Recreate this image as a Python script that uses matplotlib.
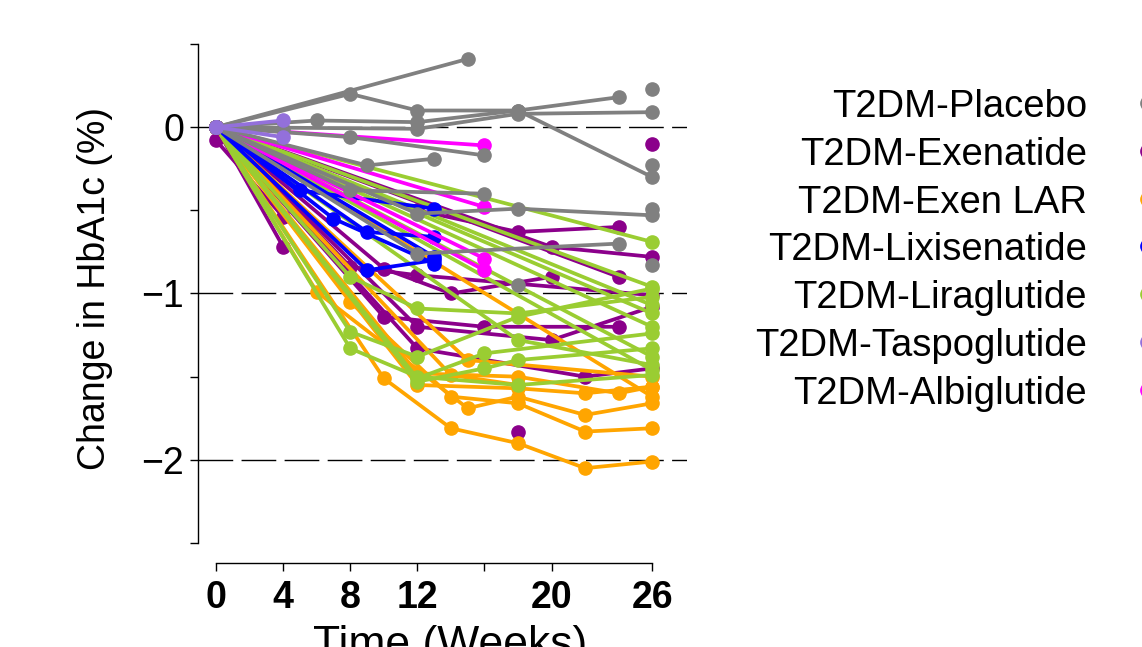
import matplotlib.pyplot as plt
from matplotlib.lines import Line2D

plt.rcParams['font.family'] = ['Liberation Sans', 'DejaVu Sans']

# ---- data (weeks, change in HbA1c %) ----
group_names = ['T2DM-Placebo', 'T2DM-Exenatide', 'T2DM-Exen LAR', 'T2DM-Lixisenatide',
               'T2DM-Liraglutide', 'T2DM-Taspoglutide', 'T2DM-Albiglutide']
group_colors = ['#808080', '#8B008B', '#FFA500', '#0000FF', '#9ACD32', '#9370DB', '#FF00FF']

placebo_weeks = [[0, 15], [0, 8, 12, 18, 26], [0, 6, 12, 18, 24], [0, 12, 18, 26],
                 [0, 8, 16], [0, 9, 13], [0, 8, 16], [0, 12, 18, 26], [0, 12, 24], [0, 4]]
placebo_change = [[0, 0.41], [0, 0.2, 0.1, 0.1, -0.3], [0, 0.04, 0.03, 0.1, 0.18],
                  [0, -0.01, 0.08, 0.09], [0, -0.06, -0.17], [0, -0.23, -0.19],
                  [0, -0.38, -0.4], [0, -0.52, -0.49, -0.53], [0, -0.76, -0.7], [0, -0.01]]
placebo_pt_weeks = [26, 26, 26, 26, 18]
placebo_pt_change = [0.23, -0.23, -0.49, -0.83, -0.95]

exenatide_weeks = [[0, 4], [0, 4], [0, 8, 12, 26], [0, 10, 14, 20], [0, 10, 16, 24],
                   [0, 12, 20, 26], [0, 12, 22, 26], [0, 12, 18, 24], [0, 20, 26], [0, 24]]
exenatide_change = [[-0.08, -0.54], [0, -0.72], [0, -0.84, -0.89, -1.01],
                    [0, -0.85, -1.0, -0.9], [0, -1.14, -1.2, -1.2], [0, -1.2, -1.28, -1.08],
                    [0, -1.33, -1.5, -1.45], [0, -0.5, -0.63, -0.6], [0, -0.72, -0.78],
                    [0, -0.9]]
exenatide_pt_weeks = [26, 18]
exenatide_pt_change = [-0.1, -1.83]

lar_weeks = [[0, 10, 14, 18, 22, 26], [0, 8, 14, 18, 22, 26], [0, 6, 15, 18, 22, 26],
             [0, 12, 18, 24, 26], [0, 15, 26], [0, 12, 18, 22, 26], [0, 14, 18], [0, 26]]
lar_change = [[0, -1.51, -1.81, -1.9, -2.05, -2.01], [0, -1.05, -1.62, -1.66, -1.83, -1.81],
              [0, -0.99, -1.69, -1.62, -1.73, -1.66], [0, -1.48, -1.5, -1.6, -1.56],
              [0, -1.4, -1.5], [0, -1.55, -1.57, -1.6, -1.56], [0, -1.49, -1.55],
              [0, -1.62]]

lixi_weeks = [[0, 5, 13], [0, 9, 13], [0, 9, 13], [0, 7, 13], [0, 13]]
lixi_change = [[0, -0.38, -0.49], [0, -0.63, -0.66], [0, -0.86, -0.8],
               [0, -0.55, -0.82], [0, -0.78]]

lira_weeks = [[0, 26], [0, 26], [0, 8, 12, 18, 26], [0, 8, 12, 18, 26], [0, 8, 12, 18, 26],
              [0, 12, 16, 26], [0, 12, 16, 18, 26], [0, 18, 26], [0, 26], [0, 26], [0, 26],
              [0, 26], [0, 26]]
lira_change = [[0, -0.69], [0, -0.96], [0, -0.9, -1.09, -1.12, -1.02],
               [0, -1.23, -1.38, -1.14, -0.97], [0, -1.33, -1.5, -1.55, -1.49],
               [0, -1.51, -1.36, -1.24], [0, -1.53, -1.45, -1.4, -1.33],
               [0, -1.28, -1.43], [0, -1.12], [0, -1.38], [0, -1.07], [0, -1.2], [0, -1.46]]

taspo_weeks = [[0, 4], [0, 4]]
taspo_change = [[0, 0.04], [0, -0.06]]

albi_weeks = [[0, 16], [0, 16], [0, 16], [0, 16]]
albi_change = [[0, -0.11], [0, -0.48], [0, -0.79], [0, -0.86]]

x_ticks = [0, 4, 8, 12, 16, 20, 26]
x_tick_labels = ['0', '4', '8', '12', '', '20', '26']
y_ticks = [-2.5, -2, -1.5, -1, -0.5, 0, 0.5]
y_tick_labels = ['', '\u22122', '', '\u22121', '', '0', '']

# ---- figure ----
fig = plt.figure(figsize=(11.42, 6.47), dpi=100)
ax = fig.add_axes([198 / 1142, 1 - 563 / 647, 489 / 1142, 539 / 647])
ax.set_xlim(-1.08, 28.08)
ax.set_ylim(-2.62, 0.62)

for yv in [0, -1, -2]:
    ax.axhline(yv, color='black', lw=1, dashes=(25, 6), zorder=1)

lw = 2.7
ms = 9.5


def draw_group(weeks, change, color):
    for w, v in zip(weeks, change):
        ax.plot(w, v, '-o', color=color, lw=lw, ms=ms, zorder=2)


draw_group(exenatide_weeks, exenatide_change, group_colors[1])
ax.plot(exenatide_pt_weeks, exenatide_pt_change, 'o', color=group_colors[1], ms=ms, zorder=2)
draw_group(lar_weeks, lar_change, group_colors[2])
draw_group(lira_weeks, lira_change, group_colors[4])
draw_group(lixi_weeks, lixi_change, group_colors[3])
draw_group(albi_weeks, albi_change, group_colors[6])
draw_group(placebo_weeks, placebo_change, group_colors[0])
ax.plot(placebo_pt_weeks, placebo_pt_change, 'o', color=group_colors[0], ms=ms, zorder=2)
draw_group(taspo_weeks, taspo_change, group_colors[5])

# axes styling (detached R-like axes)
for s in ['top', 'right']:
    ax.spines[s].set_visible(False)
ax.spines['left'].set_bounds(-2.5, 0.5)
ax.spines['bottom'].set_bounds(0, 26)
ax.spines['left'].set_linewidth(1)
ax.spines['bottom'].set_linewidth(1)
ax.set_xticks(x_ticks)
ax.set_xticklabels(x_tick_labels, fontweight='bold')
ax.set_yticks(y_ticks)
ax.set_yticklabels(y_tick_labels)
ax.tick_params(axis='both', direction='out', length=6, width=1, labelsize=27)
ax.tick_params(axis='x', pad=6)
ax.tick_params(axis='y', pad=4)

fig.text(95 / 1142, 1 - 288 / 647, 'Change in HbA1c (%)', rotation=90,
         ha='center', va='center', fontsize=27)
fig.text(450 / 1142, 1 - 657 / 647, 'Time (Weeks)', ha='center', va='baseline', fontsize=32)

# legend: right-aligned names with markers at the figure edge
for i, (name, col) in enumerate(zip(group_names, group_colors)):
    yc = 1 - (107 + 47.75 * i) / 647
    fig.text(1087 / 1142, yc, name, ha='right', va='center', fontsize=27.5)
    fig.add_artist(Line2D([1148 / 1142], [yc + 4 / 647], marker='o', color=col,
                          ms=11, ls='none', transform=fig.transFigure))

fig.savefig('out.png', dpi=100)
